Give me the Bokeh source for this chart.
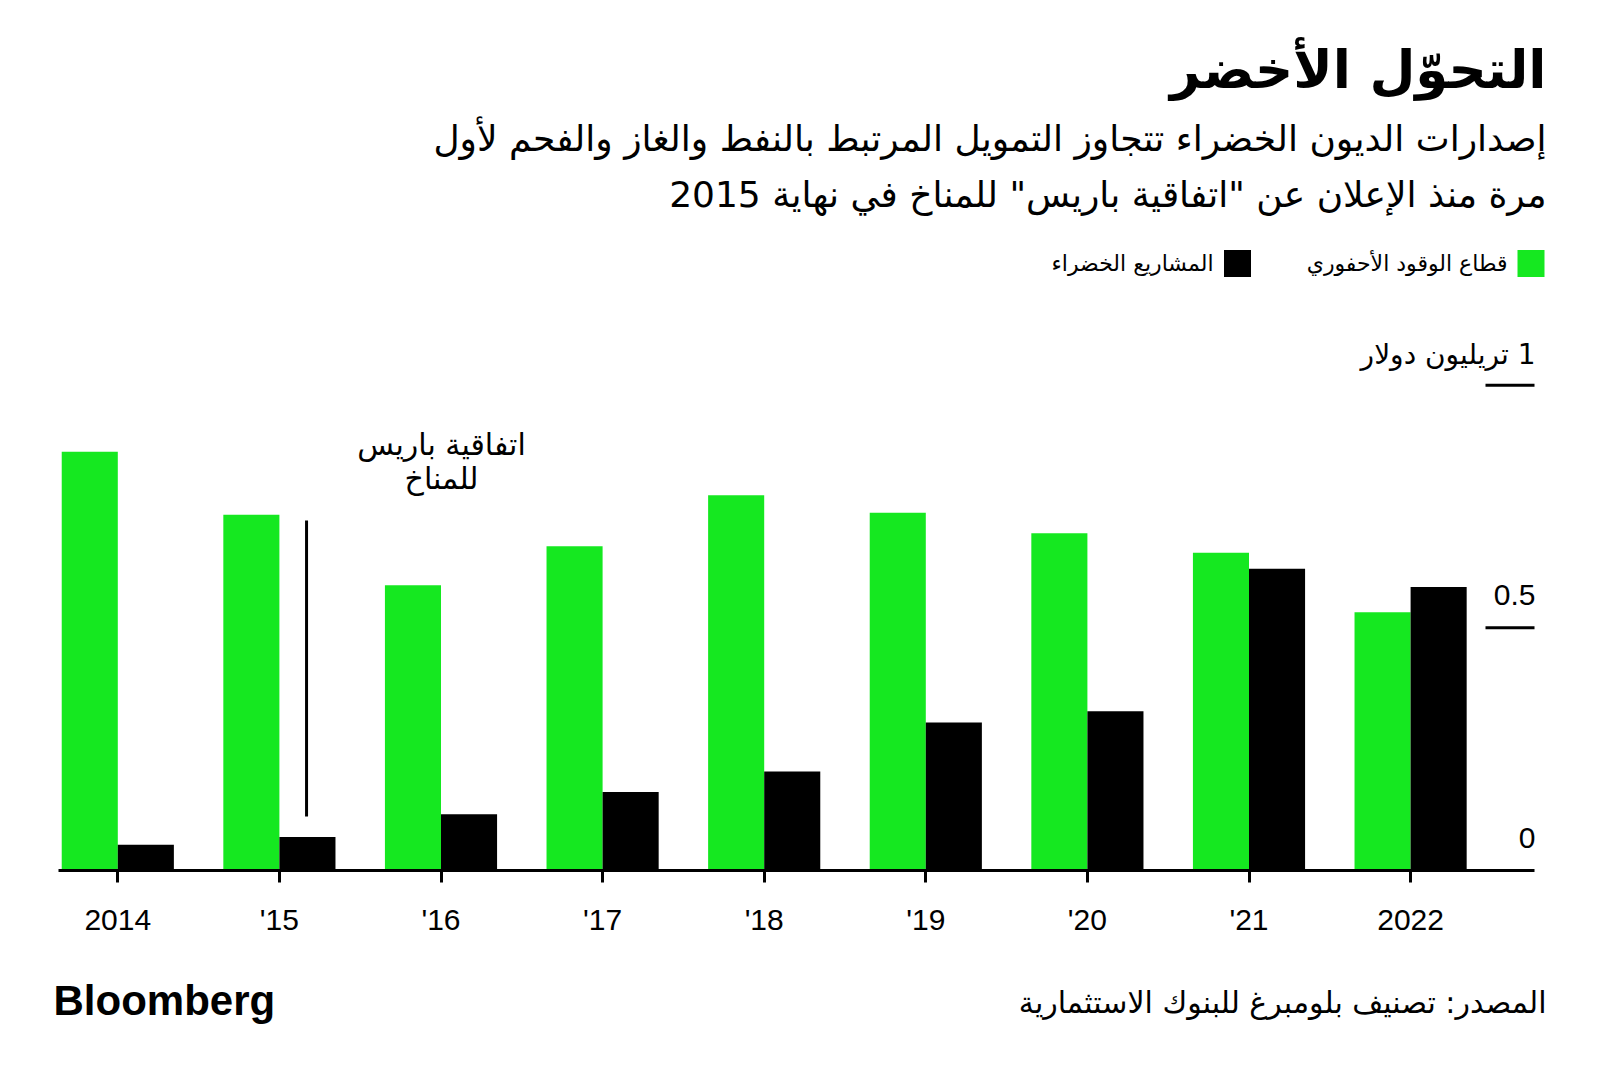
from bokeh.plotting import figure
from bokeh.models import Range1d, FixedTicker, LinearAxis, Label
from bokeh.transform import dodge
from bokeh.core.properties import value
from bokeh.embed import file_html
from bokeh.resources import INLINE

# ---------------- data ----------------
year_labels = ["2014", "'15", "'16", "'17", "'18", "'19", "'20", "'21", "2022"]
fossil_fuel = [0.863, 0.733, 0.588, 0.668, 0.773, 0.737, 0.695, 0.655, 0.532]
green_projects = [0.053, 0.069, 0.116, 0.162, 0.204, 0.305, 0.328, 0.622, 0.584]
y_tick_values = [0, 0.5, 1.0]
y_tick_labels = ["0", "0.5", "\u200f1 تريليون دولار"]
series_names = ["قطاع الوقود الأحفوري", "المشاريع الخضراء"]
paris_year_pos = 1.168

title_text = "التحوّل الأخضر"
subtitle_1 = "إصدارات الديون الخضراء تتجاوز التمويل المرتبط بالنفط والغاز والفحم لأول"
subtitle_2 = "مرة منذ الإعلان عن \"اتفاقية باريس\" للمناخ في نهاية 2015"
paris_text_1 = "اتفاقية باريس"
paris_text_2 = "للمناخ"
source_text = "المصدر: تصنيف بلومبرغ للبنوك الاستثمارية"

GREEN = "#15E820"
BLACK = "#000000"
AR = "DejaVu Sans"
LAT = "Liberation Sans"

W, H = 1584, 1063
X0, DX = 117.3, 161.6        # pixel of first category, pixel per category
Y0, DY = 870.0, 485.3        # pixel of baseline, pixel per trillion


def X(px):
    return (px - X0) / DX


def Y(py):
    return (Y0 - py) / DY


p = figure(width=W, height=H, output_backend="svg", toolbar_location=None,
           x_range=Range1d(X(0), X(W)), y_range=Range1d(Y(H), Y(0)),
           min_border=0, min_border_left=0, min_border_right=0,
           min_border_top=0, min_border_bottom=0,
           x_axis_location=None, y_axis_location=None)
p.outline_line_color = None
p.grid.visible = False
p.background_fill_color = "white"
p.border_fill_color = "white"

xs = list(range(len(year_labels)))
src = dict(x=xs, fossil=fossil_fuel, green=green_projects)
bw = 0.347
p.vbar(x=dodge("x", -bw / 2), top="fossil", width=bw, bottom=0, source=src,
       fill_color=GREEN, line_color=None)
p.vbar(x=dodge("x", bw / 2), top="green", width=bw, bottom=0, source=src,
       fill_color=BLACK, line_color=None)

# x axis at baseline
xaxis = LinearAxis(fixed_location=0)
xaxis.ticker = FixedTicker(ticks=xs)
xaxis.major_label_overrides = {i: lab for i, lab in enumerate(year_labels)}
xaxis.bounds = (X(58), X(1534))
xaxis.axis_line_width = 3
xaxis.axis_line_color = BLACK
xaxis.major_tick_line_width = 3
xaxis.major_tick_in = 0
xaxis.major_tick_out = 12
xaxis.minor_tick_line_color = None
xaxis.major_label_standoff = 20
xaxis.major_label_text_font = LAT
xaxis.major_label_text_font_size = "30px"
xaxis.major_label_text_color = BLACK
p.add_layout(xaxis, "below")

# y ticks on right inside
p.segment(x0=[X(1485)] * 2, x1=[X(1534)] * 2, y0=y_tick_values[1:], y1=y_tick_values[1:],
          line_color=BLACK, line_width=3)
p.text(x=[X(1535)] * 2, y=y_tick_values[:2], text=y_tick_labels[:2], y_offset=-33,
       text_align="right", text_baseline="middle", text_font=value(LAT),
       text_font_size="30px", text_color=BLACK)
p.text(x=[X(1535)], y=y_tick_values[2:], text=y_tick_labels[2:], y_offset=-31,
       text_align="right", text_baseline="middle", text_font=value(AR),
       text_font_size="28px", text_color=BLACK)

# Paris annotation
p.segment(x0=[paris_year_pos], x1=[paris_year_pos], y0=[Y(520)], y1=[Y(816)],
          line_color=BLACK, line_width=3)
for txt, py in [(paris_text_1, 444), (paris_text_2, 478)]:
    p.add_layout(Label(x=X(441), y=Y(py), text=txt, text_align="center",
                       text_baseline="middle", text_font=AR, text_font_size="30px",
                       text_color=BLACK))

# titles
p.add_layout(Label(x=X(1546), y=Y(69), text=title_text, text_align="right",
                   text_baseline="middle", text_font=AR, text_font_size="53px",
                   text_font_style="bold", text_color=BLACK))
p.add_layout(Label(x=X(1546), y=Y(138), text=subtitle_1, text_align="right",
                   text_baseline="middle", text_font=AR, text_font_size="36px",
                   text_color=BLACK))
p.add_layout(Label(x=X(1546), y=Y(194), text=subtitle_2, text_align="right",
                   text_baseline="middle", text_font=AR, text_font_size="36px",
                   text_color=BLACK))

# legend
p.scatter(x=[X(1530.5), X(1237)], y=[Y(263)] * 2, marker="square", size=27,
          fill_color=[GREEN, BLACK], line_color=None)
p.text(x=[X(1507), X(1213)], y=[Y(263)] * 2, text=series_names,
       text_align="right", text_baseline="middle", text_font=value(AR),
       text_font_size="22px", text_color=BLACK)

# footer
p.add_layout(Label(x=X(53), y=Y(1000), text="Bloomberg", text_align="left",
                   text_baseline="middle", text_font=LAT, text_font_size="42px",
                   text_font_style="bold", text_color=BLACK))
p.add_layout(Label(x=X(1546), y=Y(1002), text=source_text, text_align="right",
                   text_baseline="middle", text_font=AR, text_font_size="30px",
                   text_color=BLACK))

open("out.html", "w").write(file_html(p, INLINE))
